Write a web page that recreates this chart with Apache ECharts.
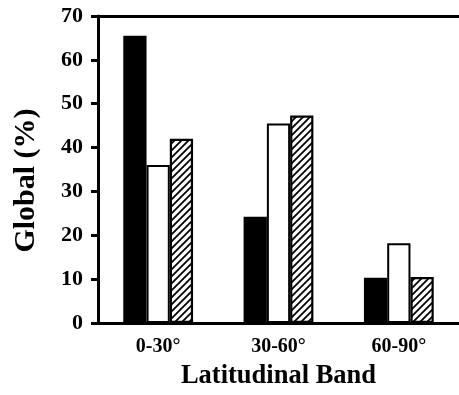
<!DOCTYPE html>
<html><head><meta charset="utf-8">
<script src="https://cdn.jsdelivr.net/npm/echarts@6/dist/echarts.min.js"></script>
<style>html,body{margin:0;padding:0;background:#fff}#c{width:459px;height:395px}</style>
</head><body><div id="c"></div>
<script>
const categories = ['0-30°', '30-60°', '60-90°'];
const blackSeries = [65.5, 24.2, 10.3];
const whiteSeries = [36, 45.5, 18.2];
const hatchSeries = [42, 47.3, 10.5];
const yTicks = [0, 10, 20, 30, 40, 50, 60, 70];

function hatchPattern() {
  const s = 7;
  const c = document.createElement('canvas');
  c.width = s; c.height = s;
  const g = c.getContext('2d');
  g.fillStyle = '#fff'; g.fillRect(0, 0, s, s);
  g.strokeStyle = '#000'; g.lineWidth = 1.8;
  g.beginPath();
  g.moveTo(-1, s + 1); g.lineTo(s + 1, -1);
  g.moveTo(-2, 2); g.lineTo(2, -2);
  g.moveTo(s - 2, s + 2); g.lineTo(s + 2, s - 2);
  g.stroke();
  return c;
}

const font = '"Liberation Serif", "Times New Roman", serif';
const chart = echarts.init(document.getElementById('c'), null, {renderer: 'canvas'});
chart.setOption({
  animation: false,
  grid: {left: 98, top: 16, width: 367, bottom: 67, containLabel: false},
  xAxis: [{
    type: 'category', data: categories, position: 'bottom',
    axisLine: {lineStyle: {color: '#000', width: 3}},
    axisTick: {show: false},
    axisLabel: {color: '#000', fontFamily: font, fontWeight: 'bold', fontSize: 20, margin: 14},
    name: 'Latitudinal Band', nameLocation: 'middle', nameGap: 40,
    nameTextStyle: {color: '#000', fontFamily: font, fontWeight: 'bold', fontSize: 26.5}
  }, {
    type: 'category', data: categories, position: 'top',
    axisLine: {lineStyle: {color: '#000', width: 3}},
    axisTick: {show: false}, axisLabel: {show: false}
  }],
  yAxis: {
    type: 'value', min: 0, max: 70, interval: 10,
    axisLine: {show: true, lineStyle: {color: '#000', width: 3}},
    axisTick: {show: true, length: 7, lineStyle: {color: '#000', width: 3}},
    splitLine: {show: false},
    axisLabel: {color: '#000', fontFamily: font, fontWeight: 'bold', fontSize: 22, margin: 15,
      formatter: v => yTicks.includes(v) ? String(v) : ''},
    name: 'Global (%)', nameLocation: 'middle', nameGap: 57, nameRotate: 90,
    nameTextStyle: {color: '#000', fontFamily: font, fontWeight: 'bold', fontSize: 30, padding: [0, 22, 0, 0]}
  },
  series: [
    {type: 'bar', data: blackSeries, barGap: '0%', barCategoryGap: '42%',
     itemStyle: {color: '#000', borderColor: '#000', borderWidth: 1.5}},
    {type: 'bar', data: whiteSeries,
     itemStyle: {color: '#fff', borderColor: '#000', borderWidth: 2}},
    {type: 'bar', data: hatchSeries,
     itemStyle: {color: {image: hatchPattern(), repeat: 'repeat'}, borderColor: '#000', borderWidth: 2.2}}
  ]
});
</script></body></html>
